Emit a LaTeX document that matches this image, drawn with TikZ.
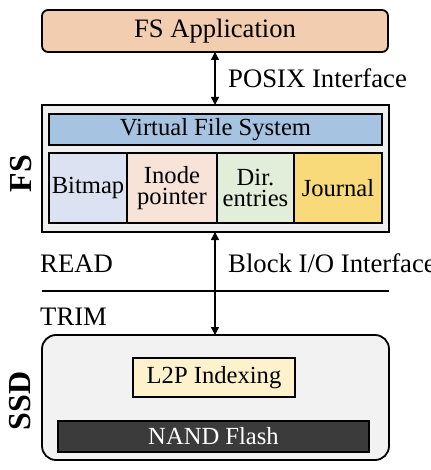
\documentclass[tikz,border=0pt]{standalone}
\usepackage{fontspec}
\setmainfont{Liberation Serif}
\usetikzlibrary{arrows.meta}
\definecolor{appc}{HTML}{F2CDAF}
\definecolor{fsc}{HTML}{EFEFEF}
\definecolor{vfsc}{HTML}{A6C3E2}
\definecolor{bmc}{HTML}{DCE2F2}
\definecolor{inc}{HTML}{F7E3D7}
\definecolor{dirc}{HTML}{E2EED9}
\definecolor{jnc}{HTML}{F8DA7B}
\definecolor{ssdc}{HTML}{F2F2F2}
\definecolor{l2pc}{HTML}{FEF2CD}
\definecolor{nandc}{HTML}{3B3B3B}
\tikzset{
  box/.style={draw=black, line width=1.6pt, inner sep=0pt, align=center, font=\fontsize{24.6}{21}\selectfont},
  outerbox/.style={draw=black, line width=1.8pt, inner sep=0pt},
  lbl/.style={inner sep=0pt, font=\fontsize{26.7}{28}\selectfont},
  side/.style={inner sep=0pt, rotate=90, font=\fontsize{32}{34}\selectfont\bfseries},
  darr/.style={{Triangle[length=8pt,width=8pt]}-{Triangle[length=8pt,width=8pt]}, line width=1.5pt},
}
\begin{document}
\begin{tikzpicture}[x=1pt,y=-1pt]
\useasboundingbox (0,0) rectangle (430,470);
% FS Application
\node[outerbox, rounded corners=6pt, fill=appc, minimum width=346pt, minimum height=42pt, font=\fontsize{26.6}{28}\selectfont] (app) at (215,31) {FS Application};
% FS
\node[outerbox, fill=fsc, minimum width=347pt, minimum height=127pt] (fs) at (215.5,168.5) {};
\node[box, fill=vfsc, minimum width=333pt, minimum height=31pt] (vfs) at (215.5,129.5) {Virtual File System};
\node[box, fill=bmc, minimum width=78pt, minimum height=70pt] (bm) at (88,188) {Bitmap};
\node[box, fill=inc, minimum width=90pt, minimum height=70pt] (ino) at (172,188) {Inode\\pointer};
\node[box, fill=dirc, minimum width=77pt, minimum height=70pt] (dir) at (255.5,188) {Dir.\\entries};
\node[box, fill=jnc, minimum width=88pt, minimum height=70pt] (jn) at (338,188) {Journal};
\node[side] (fsl) at (21,173.5) {FS};
% SSD
\node[outerbox, rounded corners=14pt, fill=ssdc, minimum width=347pt, minimum height=125pt] (ssd) at (215.5,397.5) {};
\node[box, fill=l2pc, minimum width=162pt, minimum height=39pt] (l2p) at (214,377.5) {L2P Indexing};
\node[box, fill=nandc, text=white, minimum width=311pt, minimum height=31pt] (nand) at (213.5,436.5) {NAND Flash};
\node[side] (ssdl) at (20,401) {SSD};
% arrows
\coordinate (a1) at (215,52);
\coordinate (a2) at (215,105);
\draw[darr] (a1) -- (a2);
\coordinate (b1) at (215,232);
\coordinate (b2) at (215,335);
\draw[darr] (b1) -- (b2);
% labels
\node[lbl, anchor=base west] (posix) at (228,88) {POSIX Interface};
\node[lbl, anchor=base west] (blk) at (228,272) {Block I/O Interface};
\node[lbl, anchor=base west] (rd) at (40,272) {READ};
\node[lbl, anchor=base west] (tr) at (40,325) {TRIM};
\coordinate (l1) at (42,291);
\coordinate (l2) at (389,291);
\draw[line width=1.8pt] (l1) -- (l2);
\end{tikzpicture}
\end{document}
